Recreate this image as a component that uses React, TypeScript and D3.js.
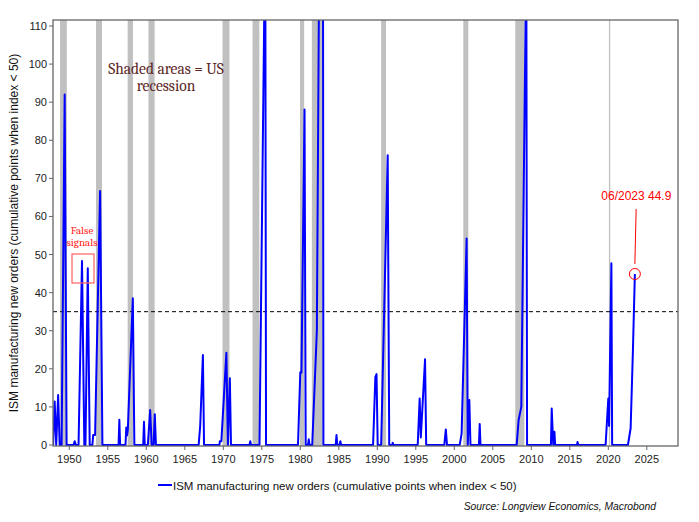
import React from "react";
import * as d3 from "d3";

const W = 699;
const H = 522;

// Decimal year / cumulative points
const years = [
  1947.9, 1948.1, 1948.3, 1948.55, 1948.75, 1949.0, 1949.4, 1949.65,
  1950.55, 1950.7, 1950.85, 1951.2, 1951.65, 1951.95, 1952.1, 1952.4, 1952.65,
  1953.0, 1953.1, 1953.35, 1954.0, 1954.3,
  1956.4, 1956.5, 1956.6, 1957.3, 1957.4, 1957.5, 1957.6, 1958.25, 1958.45,
  1959.6, 1959.7, 1959.8, 1960.2, 1960.5, 1960.7, 1960.95, 1961.1, 1961.25,
  1966.8, 1967.0, 1967.35, 1967.5,
  1969.5, 1969.55, 1969.75, 1970.4, 1970.6, 1970.85, 1971.0,
  1973.4, 1973.5, 1973.6, 1974.7, 1975.3, 1975.45, 1975.55,
  1979.7, 1980.0, 1980.15, 1980.55, 1980.7, 1981.0, 1981.1, 1981.2,
  1981.55, 1982.15, 1982.4, 1982.9, 1983.0,
  1984.6, 1984.7, 1984.8, 1985.1, 1985.2, 1985.3,
  1989.45, 1989.75, 1989.9, 1990.05, 1990.5, 1991.35, 1991.55, 1991.95, 1992.0, 1992.1,
  1995.25, 1995.5, 1995.65, 1996.2, 1996.35,
  1998.7, 1998.9, 1999.05,
  2000.7, 2000.95, 2001.6, 2001.75, 2001.95, 2002.1,
  2003.2, 2003.3, 2003.4,
  2008.1, 2008.35, 2008.7, 2009.25, 2009.35, 2009.45,
  2012.55, 2012.65, 2012.85, 2013.0, 2013.1,
  2015.95, 2016.0, 2016.1,
  2019.65, 2020.0, 2020.1, 2020.4, 2020.5,
  2022.55, 2022.9, 2023.2, 2023.45,
];
const values = [
  0, 11.4, 0, 13.1, 0, 0, 92, 0,
  0, 1, 0, 0, 48.3, 0, 0, 46.4, 0,
  0, 2.6, 2.6, 66.7, 0,
  0, 6.6, 0, 0, 4.6, 2.5, 4, 38.5, 0,
  0, 6.1, 0, 0, 9.2, 0, 0, 8.1, 0,
  0, 5, 23.6, 0,
  0, 1, 1, 24.2, 0, 17.5, 0,
  0, 1, 0, 0, 110, 135, 0,
  0, 19.1, 19, 88.1, 0, 0, 1.5, 0,
  0, 30, 110, 250, 0,
  0, 2.6, 0, 0, 1, 0,
  0, 17.9, 18.6, 0, 0, 76.1, 0, 0, 0.6, 0,
  0, 12.2, 2, 22.5, 0,
  0, 4.1, 0,
  0, 3, 54.2, 0, 11.8, 0,
  0, 5.5, 0,
  0, 6.5, 10, 110, 130, 0,
  0, 9.6, 0, 3.5, 0,
  0, 0.8, 0,
  0, 12.2, 5, 47.7, 0,
  0, 4.4, 25, 44.9,
];

const recStart = [1948.8, 1953.47, 1957.58, 1960.28, 1969.9, 1973.8, 1979.96, 1981.5, 1990.5, 2001.17, 2007.92, 2020.08];
const recEnd = [1949.68, 1954.25, 1958.27, 1961.08, 1970.8, 1974.68, 1980.5, 1982.9, 1991.13, 2001.82, 2009.1, 2020.25];

const yTicks = [0, 10, 20, 30, 40, 50, 60, 70, 80, 90, 100, 110];
const xTicks = [1950, 1955, 1960, 1965, 1970, 1975, 1980, 1985, 1990, 1995, 2000, 2005, 2010, 2015, 2020, 2025];

const threshold = 35;
const lastLabel = "06/2023 44.9";
const seriesName = "ISM manufacturing new orders (cumulative points when index < 50)";
const yTitle = "ISM manufacturing new orders (cumulative points when index < 50)";
const source = "Source: Longview Economics, Macrobond";

export default function App() {
  const L = 53, R = 678, T = 20, B = 446;
  const x = d3.scaleLinear().domain([1950, 2020]).range([69.3, 608.3]);
  const y = d3.scaleLinear().domain([0, 110]).range([445, 26]);
  const pts: [number, number][] = years.map((t, i) => [t, values[i]]);
  const line = d3.line<[number, number]>().x((d) => x(d[0])).y((d) => y(d[1]));
  const lastT = years[years.length - 1];
  const lastV = values[values.length - 1];
  const cx = x(lastT);
  const cy = y(lastV);
  const font = "'Liberation Sans', Arial, sans-serif";
  const serif = "Cambria, 'DejaVu Serif', 'Liberation Serif', serif";

  return (
    <svg width={W} height={H} style={{ position: "fixed", left: 0, top: 0, background: "#fff" }}>
      <defs>
        <clipPath id="plot">
          <rect x={L} y={T} width={R - L} height={B - T} />
        </clipPath>
      </defs>
      <rect x={0} y={0} width={W} height={H} fill="#fff" />
      <g clipPath="url(#plot)">
        {recStart.map((s, i) => (
          <rect key={i} x={x(s)} y={T} width={Math.max(1, x(recEnd[i]) - x(s))} height={B - T} fill="#c0c0c0" />
        ))}
        <line x1={L} x2={R} y1={y(threshold)} y2={y(threshold)} stroke="#000" strokeWidth={1} strokeDasharray="4,3" />
        <path d={line(pts) || ""} fill="none" stroke="#0000ff" strokeWidth={2} strokeLinejoin="round" />
      </g>
      {/* frame */}
      <rect x={L} y={T} width={R - L} height={B - T} fill="none" stroke="#666" strokeWidth={1.3} />
      {/* y ticks */}
      {yTicks.map((t) => (
        <g key={t}>
          <line x1={L - 4} x2={L} y1={y(t)} y2={y(t)} stroke="#666" strokeWidth={1} />
          <text x={L - 6} y={y(t) + 4} textAnchor="end" fontFamily={font} fontSize={11} fill="#222">{t}</text>
        </g>
      ))}
      {xTicks.map((t) => (
        <g key={t}>
          <line x1={x(t)} x2={x(t)} y1={B} y2={B + 4} stroke="#666" strokeWidth={1} />
          <text x={x(t)} y={B + 17} textAnchor="middle" fontFamily={font} fontSize={11} fill="#222">{t}</text>
        </g>
      ))}
      <text transform={`translate(18,${(T + B) / 2}) rotate(-90)`} textAnchor="middle" fontFamily={font} fontSize={12} fill="#111">{yTitle}</text>
      {/* recession note */}
      <text x={166} y={74} textAnchor="middle" fontFamily={serif} fontSize={15.5} fill="#5b2525">Shaded areas = US</text>
      <text x={166} y={91} textAnchor="middle" fontFamily={serif} fontSize={15.5} fill="#5b2525">recession</text>
      {/* false signals */}
      <text x={82} y={234} textAnchor="middle" fontFamily={serif} fontSize={11} fill="#ff2020">False</text>
      <text x={82} y={246} textAnchor="middle" fontFamily={serif} fontSize={11} fill="#ff2020">signals</text>
      <rect x={72} y={254} width={22} height={29} fill="none" stroke="#ff6060" strokeWidth={1.2} />
      {/* last value annotation */}
      <circle cx={cx} cy={cy} r={5.5} fill="none" stroke="#ff0000" strokeWidth={1} />
      <line x1={cx + 1.3} y1={cy - 65} x2={cx} y2={cy - 10} stroke="#ff0000" strokeWidth={1} />
      <text x={cx + 1.5} y={cy - 74} textAnchor="middle" fontFamily={font} fontSize={12} fill="#ff0000">{lastLabel}</text>
      {/* legend */}
      <line x1={158} x2={172} y1={485} y2={485} stroke="#0000ff" strokeWidth={2} />
      <text x={173} y={489.5} fontFamily={font} fontSize={11.5} fill="#111">{seriesName}</text>
      <text x={656} y={510} textAnchor="end" fontFamily={font} fontSize={10.3} fontStyle="italic" fill="#111">{source}</text>
    </svg>
  );
}
